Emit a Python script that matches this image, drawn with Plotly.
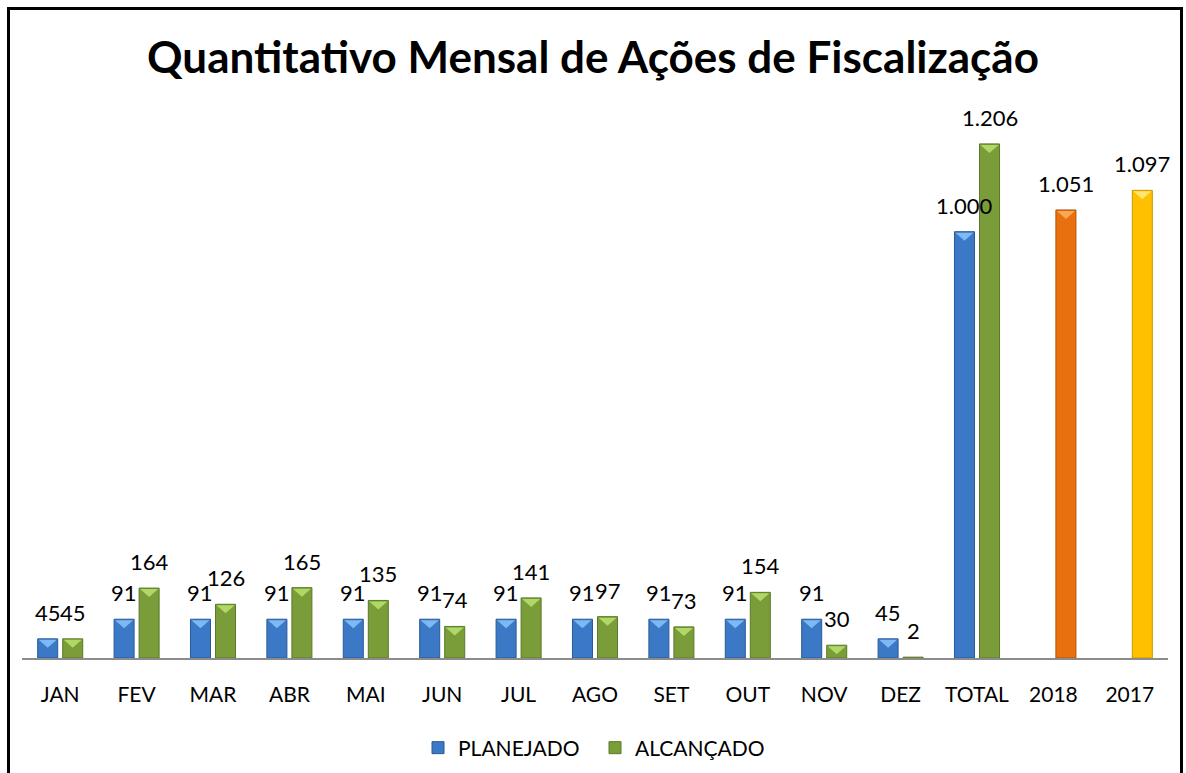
import plotly.graph_objects as go

categories = ["JAN", "FEV", "MAR", "ABR", "MAI", "JUN", "JUL", "AGO", "SET", "OUT", "NOV", "DEZ", "TOTAL", "2018", "2017"]
planejado = [45, 91, 91, 91, 91, 91, 91, 91, 91, 91, 91, 45, 1000, None, None]
alcancado = [45, 164, 126, 165, 135, 74, 141, 97, 73, 154, 30, 2, 1206, 1051, 1097]

blue, blue_edge, blue_top = "#3B79C6", "#2A5A96", "#7DB9F4"
green, green_edge, green_top = "#7A9D3A", "#5A7A28", "#B0D866"
orange, orange_edge, orange_top = "#E8700E", "#B0520A", "#FBA654"
yellow, yellow_edge, yellow_top = "#FFC000", "#C89600", "#FFE46E"
alc_colors = [green] * 13 + [orange, yellow]
alc_lines = [green_edge] * 13 + [orange_edge, yellow_edge]
alc_tops = [green_top] * 13 + [orange_top, yellow_top]


def fmt(v):
    return f"{v:,}".replace(",", ".")


W, H = 1186, 773
L, R, T, B = 22, 1168, 100, 658
PX_PER_UNIT = 0.4263
ymax = (B - T) / PX_PER_UNIT
cat_w = (R - L) / len(categories)
bargap, bargroupgap = 0.345, 0.2
slot = cat_w * (1 - bargap) / 2
bar_w = slot * (1 - bargroupgap)
offsets = [-slot / 2, slot / 2]

FONT = "Lato, Open Sans, sans-serif"

fig = go.Figure()
fig.add_trace(go.Bar(
    x=categories, y=planejado, name="PLANEJADO",
    marker=dict(color=blue, line=dict(color=blue_edge, width=1)),
))
fig.add_trace(go.Bar(
    x=categories, y=alcancado, name="ALCANÇADO",
    marker=dict(color=alc_colors, line=dict(color=alc_lines, width=1)),
))

shapes = []
annotations = []
tri_h = 8
for si, (vals, tops) in enumerate([(planejado, [blue_top] * len(categories)), (alcancado, alc_tops)]):
    for i, v in enumerate(vals):
        if v is None:
            continue
        off = offsets[si]
        annotations.append(dict(
            x=i, y=v, xref="x", yref="y", text=fmt(v), showarrow=False,
            xshift=off, yshift=11, yanchor="bottom", xanchor="center",
            font=dict(family=FONT, size=22, color="#000000"),
        ))
        if v * PX_PER_UNIT > tri_h + 2:
            hw = bar_w / 2 - 1
            shapes.append(dict(
                type="path", xref="x", yref="y", xsizemode="pixel", ysizemode="pixel",
                xanchor=i, yanchor=v,
                path=f"M {off - hw:.2f},-1 L {off + hw:.2f},-1 L {off:.2f},{-1 - tri_h} Z",
                fillcolor=tops[i], line=dict(width=0), layer="above",
            ))

px2x = lambda p: (p - L) / (R - L)
px2y = lambda p: (B - p) / (B - T)
shapes.append(dict(type="rect", xref="paper", yref="paper",
                   x0=px2x(8.5), x1=px2x(1181.5), y0=px2y(800), y1=px2y(8.5),
                   line=dict(color="#000000", width=3), fillcolor="rgba(0,0,0,0)",
                   layer="above"))

fig.update_layout(
    width=W, height=H,
    margin=dict(l=L, r=W - R, t=T, b=H - B, pad=0),
    paper_bgcolor="white", plot_bgcolor="white",
    font=dict(family=FONT, size=20, color="#000000"),
    barmode="group", bargap=bargap, bargroupgap=bargroupgap,
    title=dict(text="<b>Quantitativo Mensal de Ações de Fiscalização</b>",
               x=0.5, xanchor="center", y=1 - 58 / H, yanchor="middle",
               yref="container", font=dict(size=44, color="#000000")),
    xaxis=dict(showline=True, linecolor="#8C8C8C", linewidth=2,
               ticks="", showgrid=False, ticklabelstandoff=17,
               tickfont=dict(size=21), range=[-0.5, len(categories) - 0.5]),
    yaxis=dict(visible=False, range=[0, ymax], showgrid=False, zeroline=False),
    legend=dict(orientation="h", x=0.5, xanchor="center",
                y=1 - 748 / H, yanchor="middle", yref="container",
                font=dict(size=21), itemwidth=30, traceorder="normal",
                entrywidth=132, entrywidthmode="pixels"),
    showlegend=True,
    shapes=shapes,
    annotations=annotations,
)

fig.write_html("out.html", config={"displayModeBar": False},
               post_script="document.body.style.margin='0';")
